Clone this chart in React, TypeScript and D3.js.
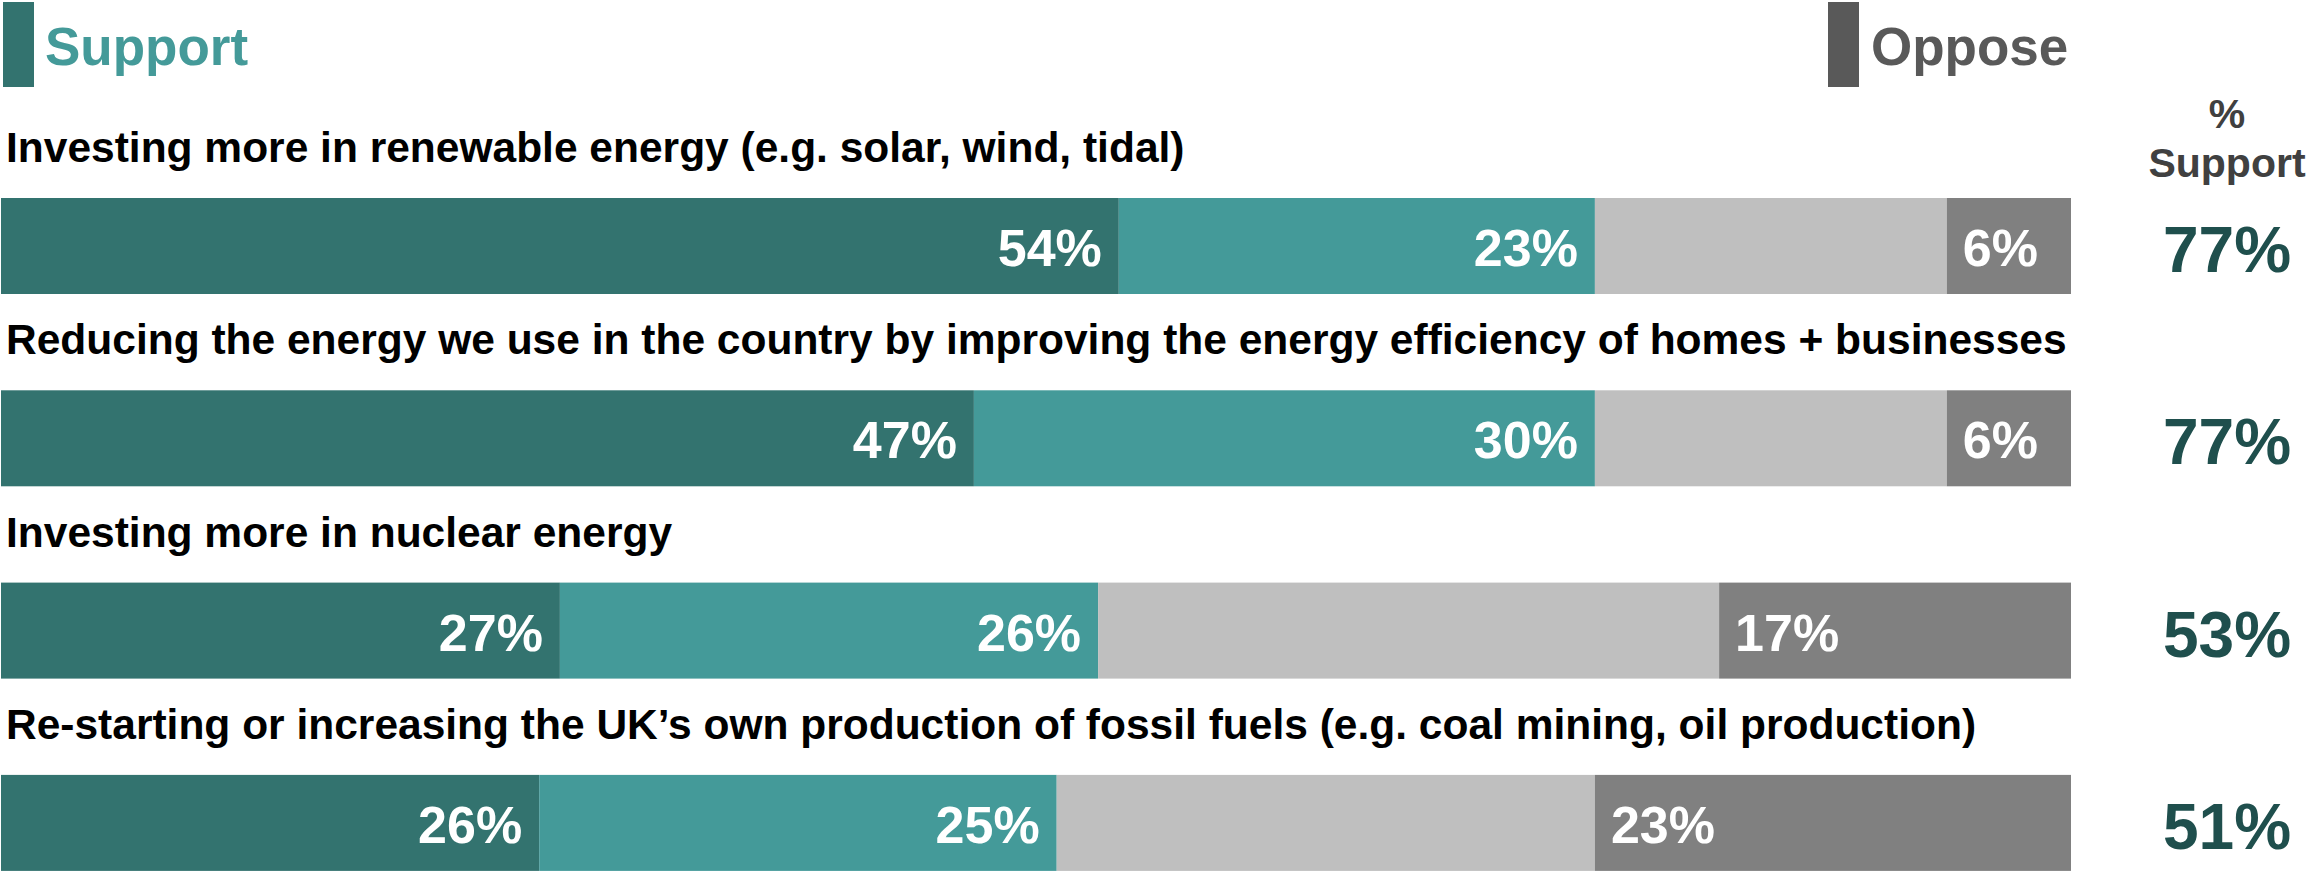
import React, { useEffect, useRef } from 'react';
import * as d3 from 'd3';

const categories = [
  'Investing more in renewable energy (e.g. solar, wind, tidal)',
  'Reducing the energy we use in the country by improving the energy efficiency of homes + businesses',
  'Investing more in nuclear energy',
  'Re-starting or increasing the UK\u2019s own production of fossil fuels (e.g. coal mining, oil production)',
];
const stronglySupport = [54, 47, 27, 26];
const tendSupport = [23, 30, 26, 25];
const neither = [17, 17, 30, 26];
const oppose = [6, 6, 17, 23];
const totalSupport = [77, 77, 53, 51];

const W = 2313;
const H = 871;
const FONT = '"Liberation Sans", Arial, sans-serif';
const colors = ['#33736F', '#449A99', '#BFBFBF', '#808080'];

const App = () => {
  const svgRef = useRef<SVGSVGElement>(null);

  useEffect(() => {
    const svg = d3.select(svgRef.current);
    svg.selectAll('*').remove();

    const x = d3.scaleLinear().domain([0, 100]).range([1, 2071]);
    const row = d3.scaleBand().domain(categories).range([104, 104 + 4 * 192.3]);
    const barH = 96;
    const barOffset = 94;

    // legend header
    svg.append('rect').attr('x', 3).attr('y', 2).attr('width', 31).attr('height', 85).attr('fill', '#33736F');
    svg.append('text').attr('x', 45).attr('y', 65).text('Support')
      .attr('font-family', FONT).attr('font-weight', 'bold').attr('font-size', 53).attr('fill', '#449A99');
    svg.append('rect').attr('x', 1828).attr('y', 2).attr('width', 31).attr('height', 85).attr('fill', '#595959');
    svg.append('text').attr('x', 1871).attr('y', 65).text('Oppose')
      .attr('font-family', FONT).attr('font-weight', 'bold').attr('font-size', 53).attr('fill', '#595959');

    const head = svg.append('text').attr('text-anchor', 'middle')
      .attr('font-family', FONT).attr('font-weight', 'bold').attr('font-size', 41).attr('fill', '#404040');
    head.append('tspan').attr('x', 2227).attr('y', 128).text('%');
    head.append('tspan').attr('x', 2227).attr('y', 177).text('Support');

    categories.forEach((cat, i) => {
      const y0 = row(cat)!;
      svg.append('text').attr('x', 6).attr('y', y0 + 58).text(cat)
        .attr('font-family', FONT).attr('font-weight', 'bold').attr('font-size', 42.5).attr('fill', '#000');

      const vals = [stronglySupport[i], tendSupport[i], neither[i], oppose[i]];
      let acc = 0;
      vals.forEach((v, k) => {
        const a = acc;
        acc += v;
        svg.append('rect')
          .attr('x', x(a)).attr('y', y0 + barOffset)
          .attr('width', x(acc) - x(a)).attr('height', barH)
          .attr('fill', colors[k]);
        if (k === 2) return;
        const t = svg.append('text')
          .attr('y', y0 + barOffset + barH / 2 + 20)
          .text(`${v}%`)
          .attr('font-family', FONT).attr('font-weight', 'bold').attr('font-size', 52).attr('fill', '#fff');
        if (k === 3) t.attr('x', x(a) + 16).attr('text-anchor', 'start');
        else t.attr('x', x(acc) - 17).attr('text-anchor', 'end');
      });

      svg.append('text').attr('x', 2227).attr('y', y0 + barOffset + barH / 2 + 26)
        .attr('text-anchor', 'middle').text(`${totalSupport[i]}%`)
        .attr('font-family', FONT).attr('font-weight', 'bold').attr('font-size', 64).attr('fill', '#1F4F4D');
    });
  }, []);

  return (
    <svg ref={svgRef} width={W} height={H}
      style={{ position: 'absolute', left: 0, top: 0, background: '#fff' }} />
  );
};

export default App;
